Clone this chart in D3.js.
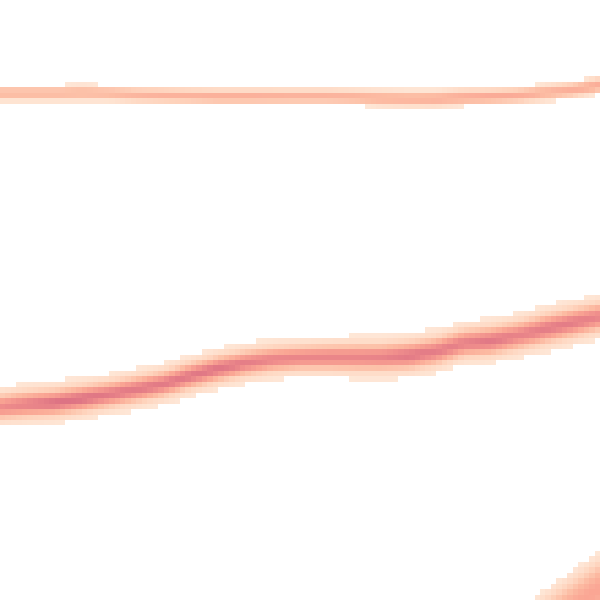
<!DOCTYPE html>
<html><head><meta charset="utf-8">
<script src="https://cdn.jsdelivr.net/npm/d3@7"></script>
<style>html,body{margin:0;padding:0;background:#fff;} svg{display:block}</style>
</head><body><div id="chart"></div>
<script>
// grid of density bins (columns x rows)
const gridCols = 110;
const gridRows = 110;

// band centre lines, read at every 5th column (row units, 0 = top)
const knotCols   = [0,5,10,15,20,25,30,35,40,45,50,55,60,65,70,75,80,85,90,95,100,105,110];
const topCenter  = [17.1,17.1,17.1,17.0,17.1,17.4,17.5,17.6,17.7,17.7,17.7,17.7,17.7,17.8,18.0,18.1,18.1,17.8,17.7,17.5,17.0,16.5,15.6];
const topPeak    = [0.38,0.38,0.38,0.38,0.38,0.40,0.42,0.42,0.44,0.44,0.43,0.42,0.42,0.42,0.42,0.42,0.44,0.46,0.48,0.46,0.42,0.44,0.46];
const topSpread  = [0.85,0.85,0.85,0.9,0.85,0.85,0.85,0.85,0.85,0.85,0.85,0.85,0.85,0.85,0.9,0.9,0.9,0.9,0.85,0.85,0.9,0.9,0.9];

const midCenter  = [74.6,74.1,73.8,73.1,72.3,71.4,70.4,68.9,67.6,66.6,65.9,65.6,65.5,65.5,65.5,65.2,64.4,62.9,62.5,61.5,60.3,59.2,58.1];
const midPeak    = [0.72,0.82,0.95,0.95,0.88,0.88,0.88,0.9,0.92,0.85,0.8,0.78,0.78,0.78,0.8,0.9,0.85,0.82,0.9,0.8,0.86,0.86,0.78];
const midSpread  = [1.15,1.15,1.1,1.1,1.1,1.1,1.1,1.1,1.1,1.1,1.1,1.1,1.15,1.2,1.2,1.2,1.2,1.2,1.2,1.25,1.25,1.25,1.25];

const lowKnotCols = [95,100,105,110];
const lowCenter   = [118.3,114.8,111.3,107.8];
const lowPeak     = [0.5,0.5,0.5,0.5];
const lowSpread   = [3.5,3.5,3.5,3.5];

const colorStops  = [0.05,0.2,0.35,0.5,0.7,1.0];
const colorValues = ["#feeadb","#fed6c0","#fcbca3","#faa694","#f08f8c","#d96d82"];
const threshold = 0.075;

const W = 600, H = 600;
const x = d3.scaleLinear().domain([0, gridCols]).range([0, W]);
const y = d3.scaleLinear().domain([0, gridRows]).range([0, H]);
const color = d3.scaleLinear().domain(colorStops).range(colorValues).clamp(true);

function band(kc, centers, peaks, spreads, halo) {
  return {
    c: d3.scaleLinear().domain(kc).range(centers),
    p: d3.scaleLinear().domain(kc).range(peaks),
    s: d3.scaleLinear().domain(kc).range(spreads),
    halo, lo: kc[0], hi: kc[kc.length-1]
  };
}
const bands = [
  band(knotCols, topCenter, topPeak, topSpread, 0),
  band(knotCols, midCenter, midPeak, midSpread, 0.3),
  band(lowKnotCols, lowCenter, lowPeak, lowSpread, 0)
];

const cells = [];
for (let i = 0; i < gridCols; i++) {
  const cx = i + 0.5;
  for (let j = 0; j < gridRows; j++) {
    const cy = j + 0.5;
    let v = 0;
    for (const b of bands) {
      if (cx < b.lo - 0.5 || cx > b.hi + 0.5) continue;
      const d = (cy - b.c(cx)) / b.s(cx);
      const core = Math.exp(-0.5 * d * d);
      const wide = Math.exp(-0.5 * (d / 2.2) * (d / 2.2));
      v += b.p(cx) * ((1 - b.halo) * core + b.halo * wide);
    }
    if (v >= threshold) cells.push({i, j, v});
  }
}

const svg = d3.select("#chart").append("svg").attr("width", W).attr("height", H)
  .attr("shape-rendering", "crispEdges");
svg.append("g").selectAll("rect").data(cells).join("rect")
  .attr("x", d => Math.round(x(d.i)))
  .attr("y", d => Math.round(y(d.j)))
  .attr("width", d => Math.round(x(d.i + 1)) - Math.round(x(d.i)))
  .attr("height", d => Math.round(y(d.j + 1)) - Math.round(y(d.j)))
  .attr("fill", d => color(d.v));
</script></body></html>
